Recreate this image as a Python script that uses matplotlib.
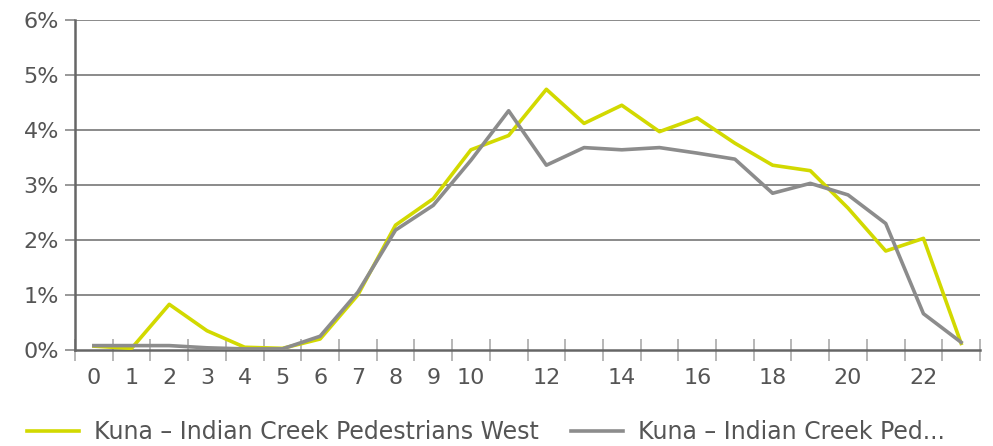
import matplotlib
matplotlib.use("Agg")
import matplotlib.pyplot as plt
from matplotlib.ticker import FixedLocator, FuncFormatter

hours = list(range(24))
west = [0.07, 0.03, 0.83, 0.35, 0.05, 0.03, 0.20, 1.00, 2.27, 2.75, 3.64, 3.90, 4.74,
        4.12, 4.45, 3.97, 4.22, 3.76, 3.36, 3.26, 2.58, 1.80, 2.03, 0.12]
other = [0.08, 0.08, 0.08, 0.04, 0.02, 0.02, 0.25, 1.05, 2.18, 2.63, 3.45, 4.35, 3.36,
         3.68, 3.64, 3.68, 3.58, 3.47, 2.85, 3.03, 2.82, 2.30, 0.66, 0.14]
labels_shown = ["0", "1", "2", "3", "4", "5", "6", "7", "8", "9", "10", "12", "14", "16", "18", "20", "22"]
series_names = ["Kuna – Indian Creek Pedestrians West", "Kuna – Indian Creek Ped..."]
yticks = [0, 1, 2, 3, 4, 5, 6]

fig = plt.figure(figsize=(9.93, 4.46), dpi=100)
ax = fig.add_axes([75/993, 1-350/446, (980-75)/993, 330/446])

text_color = "#555555"
ax.set_xlim(-0.5, 23.5)
ax.set_ylim(0, 6)

for y in yticks[1:]:
    ax.axhline(y, color="#8a8a8a", lw=1.4, zorder=1)

ax.plot(hours, west, color="#d2d900", lw=2.6, label=series_names[0], zorder=3)
ax.plot(hours, other, color="#8c8c8c", lw=2.6, label=series_names[1], zorder=3)

for s in ["top", "right"]:
    ax.spines[s].set_visible(False)
for s in ["left", "bottom"]:
    ax.spines[s].set_color("#666666")
    ax.spines[s].set_linewidth(1.8)

ax.set_yticks(yticks)
ax.yaxis.set_major_formatter(FuncFormatter(lambda v, p: f"{int(v)}%"))
ax.tick_params(axis="y", direction="out", length=7.5, width=1.2, color="#888888",
               labelsize=16, labelcolor=text_color, pad=4)

ax.xaxis.set_major_locator(FixedLocator([h - 0.5 for h in range(25)]))
ax.xaxis.set_major_formatter(FuncFormatter(lambda v, p: ""))
label_pos = [int(l) for l in labels_shown]
ax.xaxis.set_minor_locator(FixedLocator(label_pos))
ax.set_xticklabels(labels_shown, minor=True)
ax.tick_params(axis="x", which="major", direction="inout", length=16, width=1.2, color="#aaaaaa")
ax.tick_params(axis="x", which="minor", length=0, labelsize=16, labelcolor=text_color, pad=13)

leg = fig.legend(loc="center left", bbox_to_anchor=(18/993, 1-432/446), ncol=2, frameon=False,
                 fontsize=17, handlelength=2.2, handletextpad=0.6, columnspacing=1.4,
                 borderaxespad=0.0)
for t in leg.get_texts():
    t.set_color(text_color)

fig.savefig("out.png", dpi=100)
